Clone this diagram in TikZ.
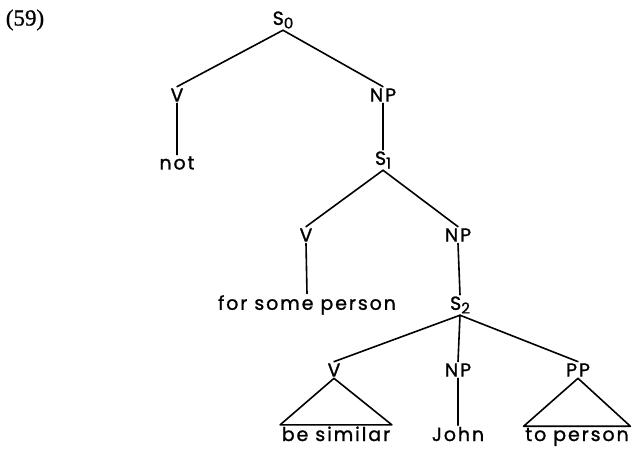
\documentclass[tikz,border=0pt]{standalone}
\usepackage{fontspec}
\setmainfont{Poppins}[LetterSpace=10,FakeBold=1.2]
\newfontfamily\numfont{Liberation Serif}[FakeBold=1]
\tikzset{
  lab/.style={inner sep=1.5pt, font=\fontsize{19}{21}\selectfont},
  leaf/.style={lab, anchor=base},
  br/.style={line width=1.6pt, line cap=round, line join=round},
}
\newcommand{\subx}[1]{\raisebox{-0.35ex}{\fontsize{15}{15}\selectfont #1}}
\begin{document}
\begin{tikzpicture}[x=1pt,y=-1pt]
\useasboundingbox (0,0) rectangle (633,450);
\node[inner sep=0pt, font=\numfont\fontsize{23}{25}\selectfont] (n59) at (25,20) {(59)};
\node[lab] (s0) at (283,20) {S\subx{0}};
\node[lab] (v1) at (177,95) {V};
\node[lab] (np1) at (383,95) {NP};
\node[lab] (not) at (177,163) {not};
\node[lab] (s1) at (383,160) {S\subx{1}};
\node[lab] (v2) at (306,235) {V};
\node[lab] (np2) at (458,235) {NP};
\node[lab] (fsp) at (307,305) {for some person};
\node[lab] (s2) at (460,305) {S\subx{2}};
\node[lab] (v3) at (334,370) {V};
\node[lab] (np3) at (458,370) {NP};
\node[lab] (pp) at (578,370) {PP};
\node[leaf] (bs) at (336,441) {be similar};
\node[leaf] (john) at (458,441) {John};
\node[leaf] (tp) at (577,441) {to person};
\draw[br] (s0.south) -- (v1.north);
\draw[br] (s0.south) -- (np1.north);
\draw[br] (v1.south) -- (not.north);
\draw[br] (np1.south) -- (s1.north);
\draw[br] (s1.south) -- (v2.north);
\draw[br] (s1.south) -- (np2.north);
\draw[br] (v2.south) -- (fsp.north);
\draw[br] (np2.south) -- (s2.north);
\draw[br] (s2.south) -- (v3.north);
\draw[br] (s2.south) -- (np3.north);
\draw[br] (s2.south) -- (pp.north);
\draw[br] (np3.south) -- (john.north);
\draw[br] (v3.south) -- (bs.north west) -- (bs.north east) -- cycle;
\draw[br] (pp.south) -- (tp.north west) -- (tp.north east) -- cycle;
\end{tikzpicture}
\end{document}
